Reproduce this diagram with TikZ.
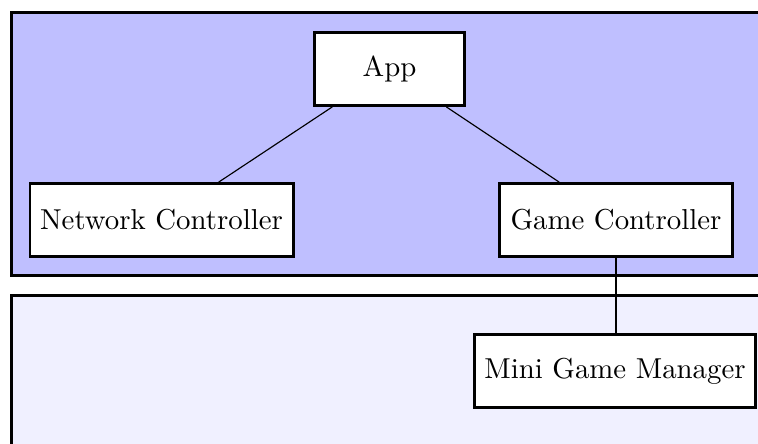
\documentclass[tikz,border=0pt]{standalone}
\begin{document}
\begin{tikzpicture}[x=0.347pt,y=-0.347pt,
  band/.style={draw=black,line width=1pt},
  box/.style={draw=black,fill=white,line width=1pt,inner sep=0pt,minimum height=25.3pt,font=\normalsize},
  link/.style={draw=black,line width=0.4pt}]
\useasboundingbox (0,0) rectangle (758,443);
\clip (0,0) rectangle (758,443);
\path[band,fill=blue!25] (11.5,12.5) rectangle (800,275.5);
\path[band,fill=blue!6] (11.5,295.5) rectangle (800,480);
\node[box,minimum width=52pt] (app) at (389.5,69) {App};
\node[box,minimum width=91.3pt] (nc) at (161.5,220) {Network Controller};
\node[box,minimum width=80.9pt] (gc) at (616,220) {Game Controller};
\node[box,minimum width=97.5pt] (mgm) at (615,371) {Mini Game Manager};
\draw[link] (app) -- (nc);
\draw[link] (app) -- (gc);
\draw[link] (gc.south) -- (gc.south |- mgm.north);
\end{tikzpicture}
\end{document}
